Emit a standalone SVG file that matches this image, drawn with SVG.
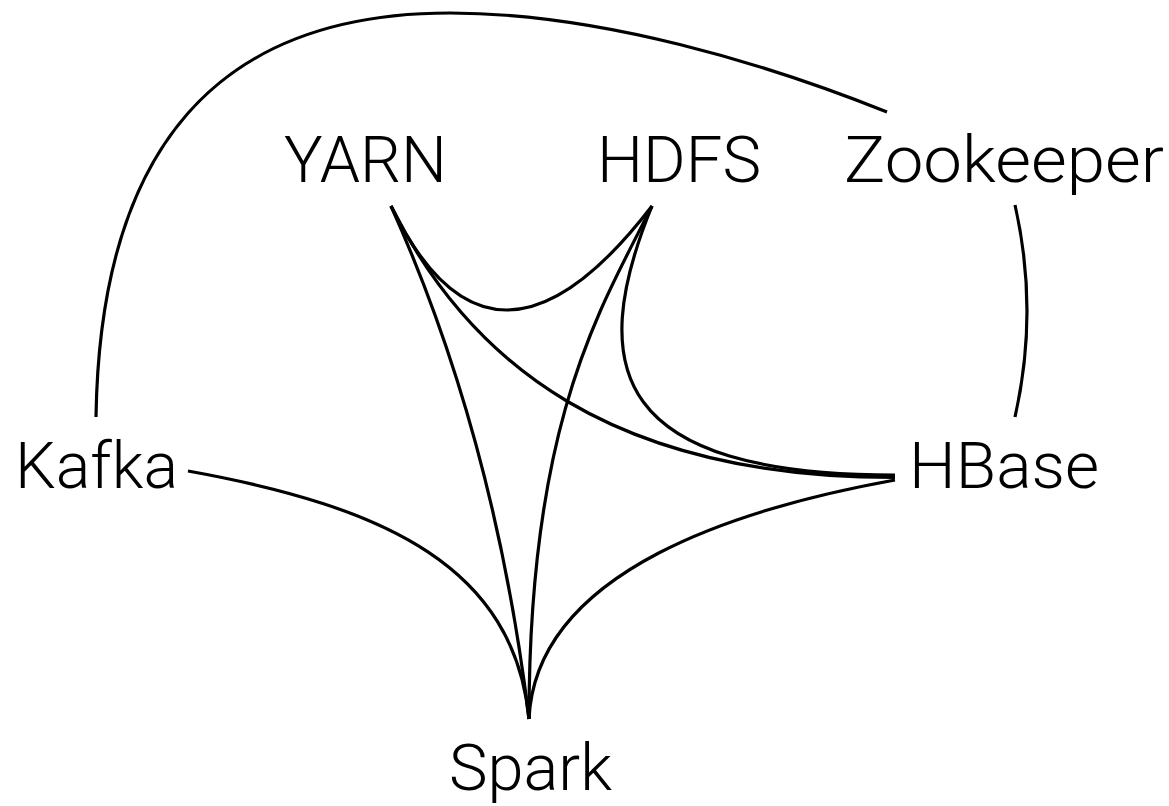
<svg xmlns="http://www.w3.org/2000/svg" width="1169" height="806" viewBox="0 0 1169 806">
  <style>
    .lbl { font-family: Roboto, "Liberation Sans", Arial, sans-serif; font-weight: 300; font-size: 64px; fill: #000; }
    .edge { fill: none; stroke: #000; stroke-width: 3.2; stroke-linecap: butt; }
  </style>
  <rect width="1169" height="806" fill="#fff"/>
  <g id="connectors">
    <path id="kafka-zookeeper" class="edge" d="M96,417 C100,150 215,13 450,13 C600,13 767,64 887,112"/>
    <path id="zookeeper-hbase" class="edge" d="M1015,205 Q1039,311 1015,417"/>
    <path id="yarn-hdfs" class="edge" d="M391,206 Q492,414 652,206"/>
    <path id="yarn-hbase" class="edge" d="M391,206 C471,366 615,477.5 895,477.5"/>
    <path id="hdfs-hbase" class="edge" d="M652,206 C585,370 615,475 895,475"/>
    <path id="yarn-spark" class="edge" d="M391,206 Q495,438 529,719"/>
    <path id="hdfs-spark" class="edge" d="M652,206 C602,306 529,418 529,719"/>
    <path id="kafka-spark" class="edge" d="M188,471 C388,507 514,568 529,719"/>
    <path id="hbase-spark" class="edge" d="M895,480 C746,507 536,568 529,719"/>
  </g>
  <g id="node-yarn"><text class="lbl" x="284" y="182" textLength="163" lengthAdjust="spacingAndGlyphs">YARN</text></g>
  <g id="node-hdfs"><text class="lbl" x="597" y="182" textLength="164" lengthAdjust="spacingAndGlyphs">HDFS</text></g>
  <g id="node-zookeeper"><text class="lbl" x="844" y="182" textLength="320" lengthAdjust="spacingAndGlyphs">Zookeeper</text></g>
  <g id="node-kafka"><text class="lbl" x="15" y="488" textLength="163" lengthAdjust="spacingAndGlyphs">Kafka</text></g>
  <g id="node-hbase"><text class="lbl" x="909" y="488" textLength="190" lengthAdjust="spacingAndGlyphs">HBase</text></g>
  <g id="node-spark"><text class="lbl" x="449" y="790" textLength="163" lengthAdjust="spacingAndGlyphs">Spark</text></g>
</svg>
